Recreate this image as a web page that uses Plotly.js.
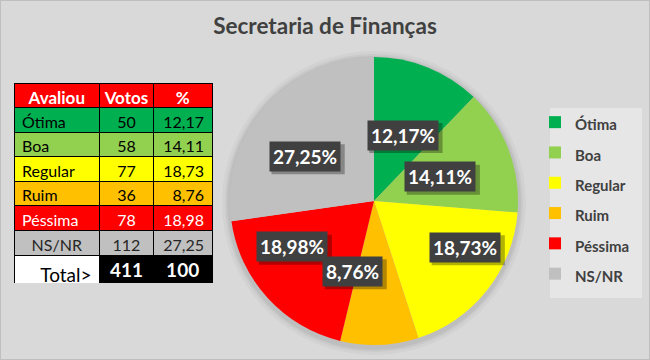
<!DOCTYPE html>
<html><head><meta charset="utf-8">
<script src="https://cdn.plot.ly/plotly-3.0.1.min.js"></script>
<style>html,body{margin:0;padding:0;background:#d9d9d9}</style>
</head><body><div id="chart" style="width:650px;height:360px"></div>
<script>
// ---- data ----
const categories = ['Ótima', 'Boa', 'Regular', 'Ruim', 'Péssima', 'NS/NR'];
const votes = [50, 58, 77, 36, 78, 112];
const percents = ['12,17', '14,11', '18,73', '8,76', '18,98', '27,25'];
const tableHeader = ['Avaliou', 'Votos', '%'];
const totalLabel = 'Total>';
const totalPercent = 100;
const chartTitle = 'Secretaria de Finanças';

// ---- styles ----
const colors = ['#00b050', '#92d050', '#ffff00', '#ffc000', '#ff0000', '#c0c0c0'];
const rowTextColors = ['#000000', '#000000', '#000000', '#000000', '#ffffff', '#262626'];
const W = 650, H = 360;
const pieCx = 374, pieCy = 201, pieR = 144;
// label placement tweaks (angle offset deg, radius fraction)
const labelAngleShift = [1.8, 0.8, -11.5, 19, 13, -8];
const labelRadiusFrac = [0.5, 0.49, 0.71, 0.51, 0.65, 0.57];
const charW = 11.2, boxPad = 6, boxH = 30, shadowOff = 3;

const totalVotes = votes.reduce((a, b) => a + b, 0);

// pie
const pie = {
  type: 'pie',
  labels: categories.map(c => '<span style="font-size:15px"><b>' + c + '</b></span>'),
  values: votes,
  sort: false,
  direction: 'clockwise',
  rotation: 0,
  marker: { colors: colors, line: { width: 0 } },
  textinfo: 'none',
  hoverinfo: 'label+value',
  domain: { x: [(pieCx - pieR) / W, (pieCx + pieR) / W], y: [1 - (pieCy + pieR) / H, 1 - (pieCy - pieR) / H] },
  showlegend: true
};

// table
const bodyCol0 = categories.concat([totalLabel]);
const bodyCol1 = votes.map(String).concat([String(totalVotes)]);
const bodyCol2 = percents.concat([String(totalPercent)]);
const fill0 = colors.concat(['#ffffff']);
const fill12 = colors.concat(['#000000']);
const fc0 = rowTextColors.concat(['#000000']);
const fc12 = rowTextColors.concat(['#ffffff']);
const align0 = categories.map(c => c === 'NS/NR' ? 'center' : 'left').concat(['right']);
const align1 = categories.map(() => 'center').concat(['center']);
const align2 = categories.map(() => 'right').concat(['center']);
const sizes = categories.map(() => 16).concat([19]);
const w0 = categories.map(() => 'normal').concat(['normal']);
const w12 = categories.map(() => 'normal').concat(['bold']);

const table = {
  type: 'table',
  domain: { x: [14 / W, 213 / W], y: [1 - 284 / H, 1 - 83 / H] },
  columnwidth: [86, 54, 59],
  header: {
    values: tableHeader,
    fill: { color: '#ff0000' },
    font: { family: 'Lato', size: 17, color: '#ffffff', weight: 'bold' },
    align: 'center',
    height: 24.5,
    line: { color: '#000000', width: 1 }
  },
  cells: {
    values: [bodyCol0, bodyCol1, bodyCol2],
    fill: { color: [fill0, fill12, fill12] },
    font: { family: 'Lato', size: [sizes, sizes, sizes], color: [fc0, fc12, fc12], weight: [w0, w12, w12] },
    align: [align0, align1, align2],
    height: 24.6,
    line: { color: '#000000', width: 1 }
  }
};

// labels as annotations, positioned from slice mid-angles
const annotations = [];
const shapes = [];
let cum = 0;
votes.forEach((v, i) => {
  const mid = (cum + v / 2) / totalVotes * 360 + labelAngleShift[i];
  cum += v;
  const th = mid * Math.PI / 180;
  const rr = pieR * labelRadiusFrac[i];
  const px = pieCx + rr * Math.sin(th);
  const py = pieCy - rr * Math.cos(th);
  const txt = '<b>' + percents[i] + '%</b>';
  const bw = (percents[i].length + 1) * charW + boxPad;
  shapes.push({
    type: 'rect', xref: 'paper', yref: 'paper', layer: 'above',
    x0: (px - bw / 2 + shadowOff) / W, x1: (px + bw / 2 + shadowOff) / W,
    y0: 1 - (py + boxH / 2 + shadowOff) / H, y1: 1 - (py - boxH / 2 + shadowOff) / H,
    fillcolor: 'rgba(0,0,0,0.3)', line: { width: 0 }
  });
  annotations.push({
    x: px / W, y: 1 - py / H, xref: 'paper', yref: 'paper', xanchor: 'center', yanchor: 'middle',
    text: txt, showarrow: false,
    font: { family: 'Lato', size: 19, color: '#ffffff' },
    bgcolor: '#404040', borderpad: 3
  });
});

// soft shadow circles around pie
[[8, 0.03], [5, 0.04], [3, 0.05]].forEach(([d, a]) => {
  shapes.push({
    type: 'circle', xref: 'paper', yref: 'paper', layer: 'below',
    x0: (pieCx - pieR - d) / W, x1: (pieCx + pieR + d) / W,
    y0: 1 - (pieCy + pieR + d + 2) / H, y1: 1 - (pieCy - pieR - d + 2) / H,
    fillcolor: 'rgba(0,0,0,' + a + ')', line: { width: 0 }
  });
});
// legend box
shapes.push({
  type: 'rect', xref: 'paper', yref: 'paper', layer: 'below',
  x0: 550 / W, x1: 642 / W, y0: 1 - 298 / H, y1: 1 - 108 / H,
  fillcolor: '#e6e6e6', line: { width: 0 }
});
// frame
shapes.push({
  type: 'rect', xref: 'paper', yref: 'paper', layer: 'above',
  x0: 0, x1: 1, y0: 0, y1: 1, line: { color: '#bfbfbf', width: 2 }
});

const layout = {
  width: W, height: H,
  margin: { l: 0, r: 0, t: 0, b: 0 },
  paper_bgcolor: '#d9d9d9',
  plot_bgcolor: '#d9d9d9',
  title: {
    text: '<b>' + chartTitle + '</b>',
    font: { family: 'Lato', size: 22.5, color: '#404040' },
    x: 0.5, xanchor: 'center', y: 1 - 26 / H, yanchor: 'middle'
  },
  showlegend: true,
  legend: {
    x: 535 / W, y: 1 - 102 / H, xanchor: 'left', yanchor: 'top',
    bgcolor: 'rgba(0,0,0,0)',
    font: { family: 'Lato', size: 21, color: '#404040', weight: 'bold' },
    traceorder: 'normal'
  },
  annotations: annotations,
  shapes: shapes
};

Plotly.newPlot('chart', [table, pie], layout, { displayModeBar: false, staticPlot: true });
</script>
</body></html>
